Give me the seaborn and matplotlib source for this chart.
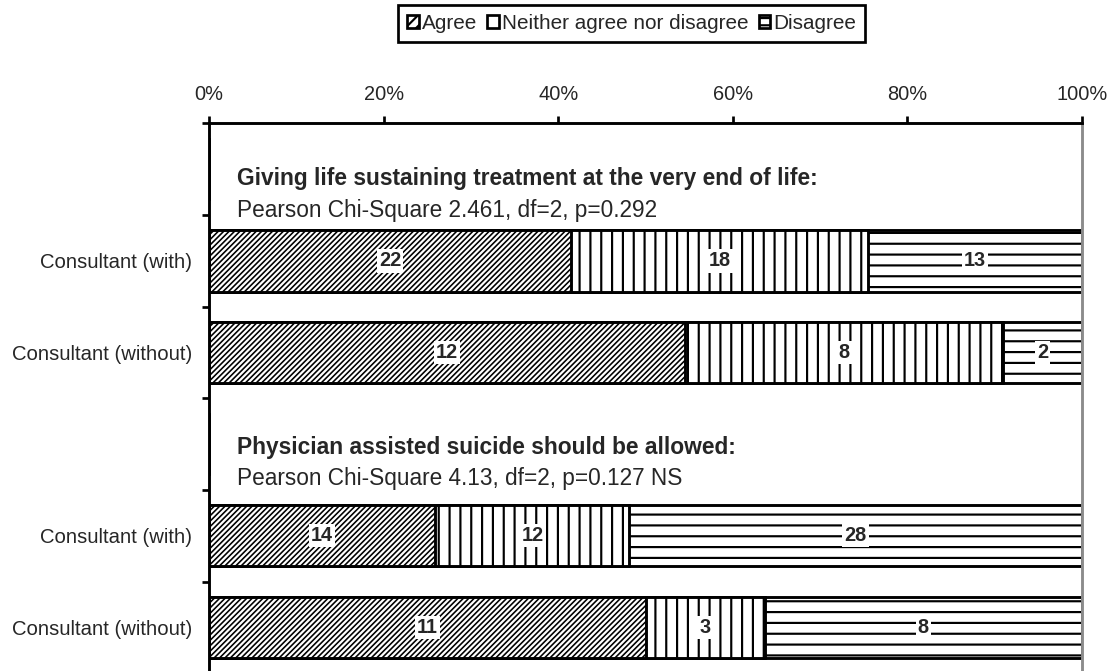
import numpy as np
import pandas as pd
import matplotlib
matplotlib.use("Agg")
import matplotlib.pyplot as plt
from matplotlib.patches import Patch
import seaborn as sns

# rows: two question blocks, each with a header row (no bar) and two groups
row_ids = ["h1", "with1", "without1", "h2", "with2", "without2"]
row_labels = ["", "Consultant (with)", "Consultant (without)",
              "", "Consultant (with)", "Consultant (without)"]
agree = [0, 22, 12, 0, 14, 11]
neither = [0, 18, 8, 0, 12, 3]
disagree = [0, 13, 2, 0, 28, 8]
headings = ["Giving life sustaining treatment at the very end of life:",
            "Physician assisted suicide should be allowed:"]
stats = ["Pearson Chi-Square 2.461, df=2, p=0.292",
         "Pearson Chi-Square 4.13, df=2, p=0.127 NS"]
series_names = ["Agree", "Neither agree nor disagree", "Disagree"]
hatches = ["////////", "||", "--"]

DPI = 130
sns.set_theme(style="white")
plt.rcParams["font.family"] = ["Liberation Sans", "DejaVu Sans"]

counts = np.array([agree, neither, disagree], dtype=float)
totals = counts.sum(axis=0)
pct = np.divide(counts, totals, out=np.zeros_like(counts), where=totals > 0) * 100
cum = pct.cumsum(axis=0)

df = pd.DataFrame({
    "row": row_ids,
    "agree_end": cum[0],
    "neither_end": cum[1],
    "disagree_end": cum[2],
})

fig = plt.figure(figsize=(1114 / DPI, 671 / DPI), dpi=DPI)
ax = fig.add_axes([209 / 1114, -0.0034, 873 / 1114, 0.8196])

# stacked bars: draw the longest layer first, shorter ones on top
for col, h, hlw in zip(["disagree_end", "neither_end", "agree_end"],
                       hatches[::-1], [1.2, 1.2, 0.9]):
    plt.rcParams["hatch.linewidth"] = hlw
    sns.barplot(data=df, x=col, y="row", orient="h", color="white",
                saturation=1, edgecolor="black", linewidth=1.6, hatch=h,
                width=0.67, errorbar=None, ax=ax)
plt.rcParams["hatch.linewidth"] = 1.2

# value labels
for i in range(len(row_ids)):
    if totals[i] == 0:
        continue
    left = 0
    for k in range(3):
        if counts[k, i] > 0:
            ax.text(left + pct[k, i] / 2, i, f"{int(counts[k, i])}",
                    ha="center", va="center", fontsize=11, fontweight="bold",
                    bbox=dict(facecolor="white", edgecolor="none", pad=1.2))
        left += pct[k, i]

# block headings
head_pos = [(0.10, 0.45), (3.04, 3.38)]
for (yh, ys), h, s in zip(head_pos, headings, stats):
    ax.text(3.2, yh, h, fontsize=12.6, fontweight="bold", va="center", ha="left")
    ax.text(3.2, ys, s, fontsize=12.5, va="center", ha="left")

# x axis on top
ax.set_xlim(0, 100)
ax.xaxis.tick_top()
ax.set_xticks(np.arange(0, 101, 20))
ax.set_xticklabels([f"{v}%" for v in range(0, 101, 20)], fontsize=11.1)
ax.tick_params(axis="x", which="major", direction="out", length=4, width=1.5,
               color="black", pad=6.7, top=True, bottom=False)

# y axis: ticks between categories, labels at centers
ax.set_yticks(np.arange(-0.5, 6, 1.0))
ax.set_yticklabels([""] * 7)
ax.set_yticks(np.arange(6), minor=True)
ax.set_yticklabels(row_labels, minor=True, fontsize=11.2)
ax.tick_params(axis="y", which="major", direction="out", length=4, width=1.5,
               color="black", left=True)
ax.tick_params(axis="y", which="minor", length=0, pad=9.5)
ax.set_ylim(5.5, -0.5)
ax.set_xlabel("")
ax.set_ylabel("")

for side in ["left", "top", "bottom"]:
    ax.spines[side].set_color("black")
    ax.spines[side].set_linewidth(1.6)
ax.spines["right"].set_color("#8c8c8c")
ax.spines["right"].set_linewidth(1.6)

handles = [Patch(facecolor="white", edgecolor="black", hatch=h, linewidth=1.5)
           for h in ["////", "", "---"]]
leg = fig.legend(handles, series_names, loc="center", bbox_to_anchor=(0.567, 0.965),
                 ncol=3, fontsize=11.5, frameon=True, fancybox=False, framealpha=1,
                 handlelength=0.55, handleheight=0.55, handletextpad=0.15,
                 columnspacing=0.5, borderpad=0.45, borderaxespad=0)
leg.get_frame().set_edgecolor("black")
leg.get_frame().set_linewidth(1.5)

fig.savefig("out.png", dpi=DPI)
plt.close(fig)
